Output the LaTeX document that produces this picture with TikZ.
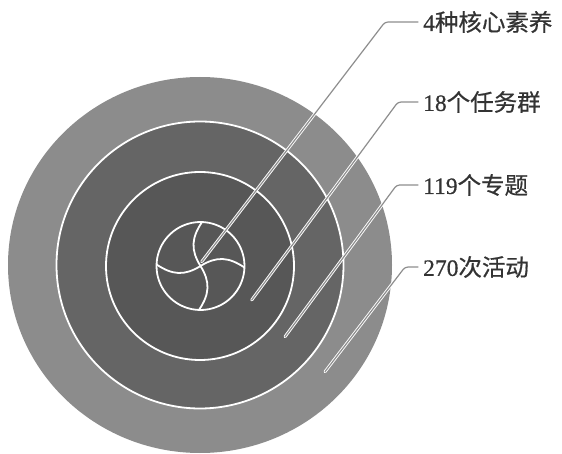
\documentclass[tikz,border=0pt]{standalone}
\usepackage{fontspec}
\setmainfont[FakeBold=0.6]{Liberation Serif}
\newfontfamily\cjk[FakeBold=0.6]{Noto Sans CJK SC}
\definecolor{bandA}{HTML}{8C8C8C}
\definecolor{bandB}{HTML}{656565}
\definecolor{bandC}{HTML}{575757}
\definecolor{leadgray}{HTML}{8E8E8E}
\definecolor{txtgray}{HTML}{333333}
\tikzset{
  ringline/.style={draw=white, line width=1.8pt},
  leader/.style={draw=white, double=leadgray, line width=0.9pt, double distance=1.2pt, rounded corners=3pt, line cap=round},
  label/.style={anchor=west, inner xsep=5pt, inner ysep=0pt, text=txtgray, font=\fontsize{23.5}{25}\selectfont}
}
\begin{document}
\begin{tikzpicture}[x=1pt,y=-1pt]
\useasboundingbox (0,0) rectangle (562,454);
% discs
\fill[bandA] (200,265) ellipse [x radius=192, y radius=188];
\fill[bandB] (200,265) circle [radius=143.5];
\fill[bandC] (200,266) circle [radius=94];
\draw[ringline] (200,265) circle [radius=143.5];
\draw[ringline] (200,266) circle [radius=94];
% pinwheel
\begin{scope}[shift={(200.5,266)}, x=1pt, y=1pt]
  \draw[ringline] (0,0) circle [radius=44];
  \foreach \a in {0,90,180,270}{
    \draw[ringline] (0,0) to[out=\a+32, in=\a+146, looseness=1.1] (\a-2:44);
  }
\end{scope}
% labels
\node[label] (l1) at (418,22) {4\cjk 种核心素养};
\node[label] (l2) at (418,102) {18\cjk 个任务群};
\node[label] (l3) at (418,185) {119\cjk 个专题};
\node[label] (l4) at (418,267) {270\cjk 次活动};
% leader points
\coordinate (e1) at (201.7,261.7);
\coordinate (c1) at (385,22);
\coordinate (e2) at (251.7,300);
\coordinate (c2) at (398,102);
\coordinate (e3) at (285,336.7);
\coordinate (c3) at (396.7,185);
\coordinate (e4) at (325,371.7);
\coordinate (c4) at (405,267);
\draw[leader] (e1) -- (c1) -- (l1.west);
\draw[leader] (e2) -- (c2) -- (l2.west);
\draw[leader] (e3) -- (c3) -- (l3.west);
\draw[leader] (e4) -- (c4) -- (l4.west);
\end{tikzpicture}
\end{document}
